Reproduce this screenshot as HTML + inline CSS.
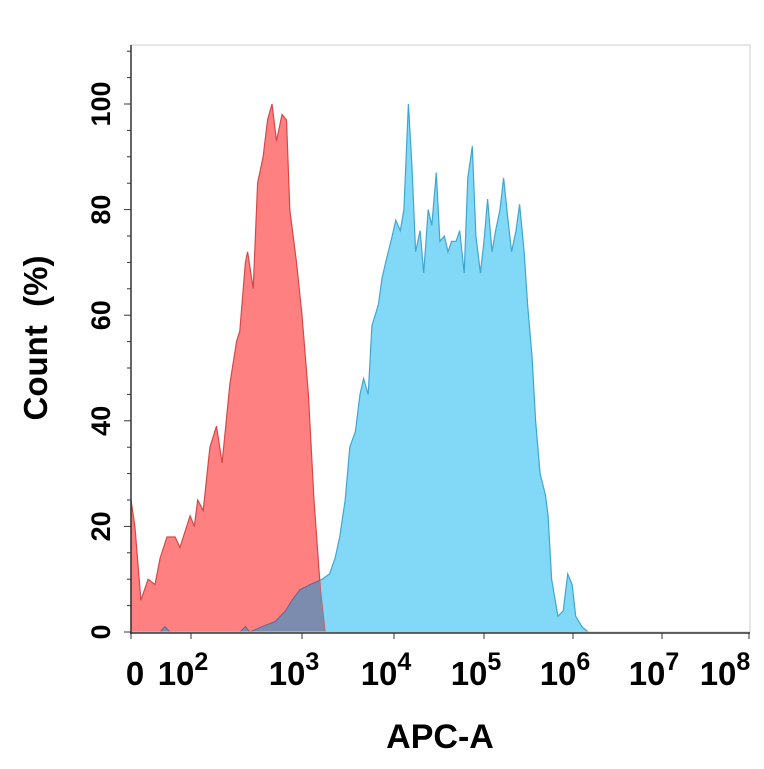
<!DOCTYPE html>
<html><head><meta charset="utf-8"><style>
body{margin:0;background:#fff}
svg text{font-family:"Liberation Sans",sans-serif;font-weight:bold;fill:#000}
</style></head><body>
<svg id="chart" width="764" height="764" viewBox="0 0 764 764" xmlns="http://www.w3.org/2000/svg">
<defs><clipPath id="redClip"><path id="redClipPath"/></clipPath></defs>
<g id="plot"></g>
<g id="axes"></g>
<text transform="translate(47,338) rotate(-90)" text-anchor="middle" font-size="33" xml:space="preserve">Count  (%)</text>
<text x="440" y="748" text-anchor="middle" font-size="34">APC-A</text>
</svg>
<script>
const xTickDecades=[0,2,3,4,5,6,7,8];
const xTickLabels=["0","10","10","10","10","10","10","10"];
const xTickExps=["","2","3","4","5","6","7","8"];
const yTicks=[0,20,40,60,80,100];
const redX=[0,0.13,0.33,0.57,0.8,0.97,1.2,1.47,1.63,1.97,2.03,2.06,2.11,2.17,2.23,2.28,2.35,2.41,2.44,2.49,2.51,2.56,2.6,2.65,2.69,2.73,2.77,2.82,2.86,2.89,2.95,3.0,3.07,3.13,3.2,3.25];
const redY=[25,20,6,10,9,14,18,18,16,22,20,25,23,35,39,32,47,55,57,70,72,65,85,90,97,100,93,98,97,80,70,60,45,25,8,0];
const blueX=[0.97,1.13,1.3,2.44,2.49,2.53,2.64,2.76,2.85,2.91,2.98,3.09,3.22,3.3,3.36,3.41,3.47,3.52,3.58,3.63,3.67,3.72,3.76,3.83,3.87,3.91,3.98,4.02,4.07,4.11,4.16,4.2,4.24,4.29,4.33,4.38,4.42,4.47,4.51,4.56,4.6,4.64,4.69,4.73,4.78,4.82,4.87,4.91,4.96,5.0,5.04,5.09,5.13,5.18,5.22,5.27,5.31,5.36,5.4,5.45,5.49,5.54,5.58,5.63,5.69,5.72,5.76,5.83,5.89,5.94,5.99,6.03,6.1,6.17];
const blueY=[0,1,0,0,1,0,1,2,4,6,8,9,10,11,14,18,25,35,38,45,48,45,58,62,67,70,75,78,76,80,100,88,72,76,68,80,77,87,74,75,72,74,74,76,68,86,92,75,68,74,82,72,76,80,86,78,72,76,81,72,62,52,40,30,26,22,10,3,4,11,9,3,1,0];
const tickPx=[131,191,302,394,484,573,662,749];
function xs(d){for(let i=0;i<xTickDecades.length-1;i++){const a=xTickDecades[i],b=xTickDecades[i+1];if(d<=b||i===xTickDecades.length-2){return tickPx[i]+(d-a)/(b-a)*(tickPx[i+1]-tickPx[i]);}}}
function ys(v){return 632-v*5.28;}
const NS="http://www.w3.org/2000/svg";
function areaPath(X,Y){let d=`M${xs(X[0])},${ys(0)}`;for(let i=0;i<X.length;i++)d+=` L${xs(X[i]).toFixed(1)},${ys(Y[i]).toFixed(1)}`;d+=` L${xs(X[X.length-1])},${ys(0)} Z`;return d;}
const plot=document.getElementById('plot');
function mk(tag,attrs){const e=document.createElementNS(NS,tag);for(const k in attrs)e.setAttribute(k,attrs[k]);return e;}
const blue=mk('path',{d:areaPath(blueX,blueY),fill:'#82d8f7',stroke:'#3fa6cf','stroke-width':1.2});


plot.appendChild(blue);
const red=mk('path',{d:areaPath(redX,redY),fill:'#ff8080',stroke:'#d54848','stroke-width':1.2});


plot.appendChild(red);
document.getElementById('redClipPath').setAttribute('d',areaPath(redX,redY));
const ov=mk('path',{d:areaPath(blueX,blueY),fill:'#7c8cae',stroke:'#5a6a90','stroke-width':1,'clip-path':'url(#redClip)'});


plot.appendChild(ov);
const axes=document.getElementById('axes');
axes.appendChild(mk('rect',{x:131,y:45,width:619,height:587,fill:'none',stroke:'#cfcfcf','stroke-width':1}));
const ya=mk('line',{x1:131,y1:45,x2:131,y2:634,stroke:'#333','stroke-width':1.5});


axes.appendChild(ya);
const xa=mk('line',{x1:130,y1:633,x2:750,y2:633,stroke:'#333','stroke-width':1.5});


axes.appendChild(xa);
for(let v=0;v<=110;v+=5){const y=ys(v);axes.appendChild(mk('line',{x1:v%20===0?124:127,y1:y,x2:131,y2:y,stroke:'#333','stroke-width':1}));}
yTicks.forEach(v=>{const t=mk('text',{transform:`translate(110,${ys(v)}) rotate(-90)`,'text-anchor':'middle','font-size':27});t.textContent=v;


axes.appendChild(t);});
xTickDecades.forEach((d,i)=>{const x=xs(d);axes.appendChild(mk('line',{x1:x,y1:633,x2:x,y2:639,stroke:'#333','stroke-width':1}));
const isLast=i===xTickDecades.length-1;
const t=mk('text',{x:xTickExps[i]?(isLast?x-24:x-8):x+4,y:685,'text-anchor':'middle','font-size':33});t.textContent=xTickLabels[i];
if(xTickExps[i]){const s=mk('tspan',{dy:-15,'font-size':25});s.textContent=xTickExps[i];t.appendChild(s);}


axes.appendChild(t);});
</script>
</body></html>
